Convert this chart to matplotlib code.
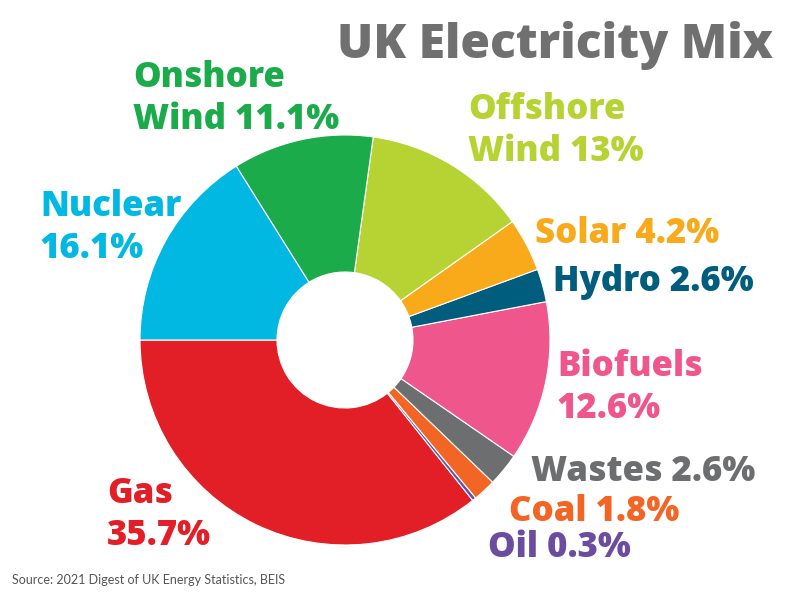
import matplotlib
matplotlib.use("Agg")
import matplotlib.pyplot as plt

labels = ["Gas", "Oil", "Coal", "Wastes", "Biofuels", "Hydro", "Solar",
          "Offshore Wind", "Onshore Wind", "Nuclear"]
shares = [35.7, 0.3, 1.8, 2.6, 12.6, 2.6, 4.2, 13.0, 11.1, 16.1]
colors = ["#E21F26", "#6B4C9F", "#F26524", "#6D6E70", "#EF578C", "#005D7E",
          "#F8AA1B", "#B7D333", "#1CAB4B", "#00B8E2"]
label_texts = ["Gas\n35.7%", "Oil 0.3%", "Coal 1.8%", "Wastes 2.6%", "Biofuels\n12.6%",
               "Hydro 2.6%", "Solar 4.2%", "Offshore\nWind 13%", "Onshore\nWind 11.1%",
               "Nuclear\n16.1%"]
# label anchor (left x, block center y) in pixels
label_pos = [(107, 515), (488, 548), (509, 512), (531, 472), (557, 388),
             (553, 282), (535, 234), (468, 131), (133, 99), (40, 228)]

W, H = 801, 601
fig = plt.figure(figsize=(W / 100, H / 100), dpi=100)
ax = fig.add_axes([0, 0, 1, 1])

cx, cy, R, r = 345, H - 340, 205, 68
ax.pie(shares, colors=colors, startangle=180, counterclock=True,
       center=(cx, cy), radius=R, frame=True,
       wedgeprops=dict(width=R - r, edgecolor="white", linewidth=0.8))
ax.set_xlim(0, W)
ax.set_ylim(0, H)
ax.set_aspect("equal")
ax.axis("off")

font = dict(family=["Open Sans", "DejaVu Sans"], fontweight="heavy")
for t, (x, y), c in zip(label_texts, label_pos, colors):
    ax.text(x, H - y, t, color=c, fontsize=25, ha="left", va="center",
            linespacing=1.25, **font)

ax.text(773, H - 45, "UK Electricity Mix", color="#707070", fontsize=34.5,
        ha="right", va="center", **font)
ax.text(12, H - 580, "Source: 2021 Digest of UK Energy Statistics, BEIS",
        color="#555555", fontsize=9, ha="left", va="center",
        family=["Lato", "DejaVu Sans"])

fig.savefig("out.png", dpi=100)
